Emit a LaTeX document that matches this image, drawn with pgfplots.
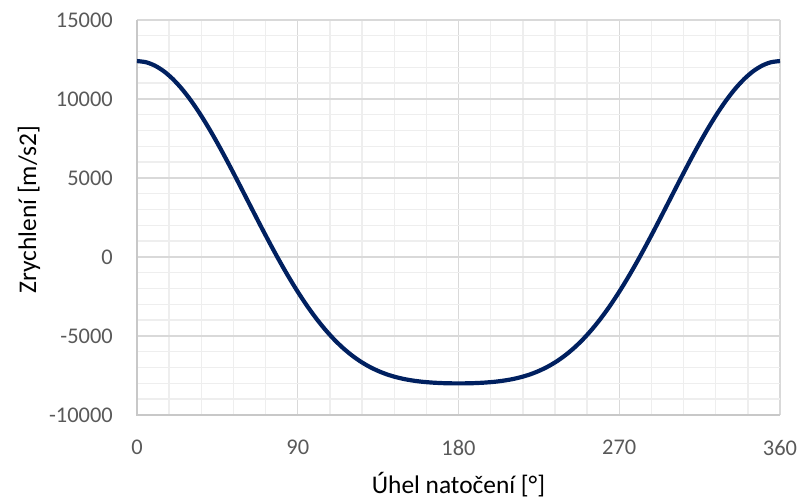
\documentclass[border=0pt]{standalone}
\usepackage{fontspec}
\setmainfont{Carlito}
\usepackage{pgfplots}
\pgfplotsset{compat=1.18}
\definecolor{navy}{RGB}{0,32,96}
\definecolor{majgrid}{RGB}{217,217,217}
\definecolor{mingrid}{RGB}{238,238,238}
\definecolor{ticktext}{RGB}{89,89,89}
\definecolor{axline}{RGB}{200,200,200}
\begin{document}
\begin{tikzpicture}
\path[use as bounding box] (0,0) rectangle (800bp,500bp);
\begin{axis}[
  at={(137bp,85bp)}, anchor=south west,
  scale only axis, width=643bp, height=395bp,
  xmin=0, xmax=360, ymin=-10000, ymax=15000,
  xtick={0,90,180,270,360}, ytick={-10000,-5000,0,5000,10000,15000},
  minor x tick num=4, minor y tick num=4,
  grid=both,
  major grid style={majgrid, line width=1.3bp},
  minor grid style={mingrid, line width=1.4bp},
  axis line style={draw=none},
  major tick length=0pt, minor tick length=0pt,
  /pgf/number format/assume math mode=true,
  /pgf/number format/1000 sep={},
  scaled y ticks=false,
  ticklabel style={font=\fontsize{22.5}{26}\selectfont, text=ticktext, inner sep=0pt},
  yticklabel style={anchor=east, xshift=-24bp},
  xticklabel style={anchor=north, yshift=-25bp},
  xlabel={Úhel natočení [°]},
  ylabel={Zrychlení [m/s2]},
  label style={font=\fontsize{25.5}{30}\selectfont, text=black, inner sep=0pt},
  xlabel style={at={(axis description cs:0.5,-0.2)}, anchor=base},
  ylabel style={at={(axis description cs:-0.157,0.52)}, rotate=0, anchor=base},
  clip=false,
]
\draw[axline, line width=1.5bp] (axis cs:0,15000) -- (axis cs:0,-10000) -- (axis cs:360,-10000);
\addplot[navy, line width=4.2bp, line join=round, smooth] coordinates {
(0,12400) (5,12328) (10,12112) (15,11758) (20,11270) (25,10658) (30,9934) (35,9108)
(40,8196) (45,7212) (50,6174) (55,5098) (60,4000) (65,2897) (70,1803) (75,735)
(80,-296) (85,-1278) (90,-2200) (95,-3056) (100,-3838) (105,-4545) (110,-5174)
(115,-5725) (120,-6200) (125,-6603) (130,-6938) (135,-7212) (140,-7432) (145,-7603)
(150,-7734) (155,-7830) (160,-7900) (165,-7947) (170,-7978) (175,-7995) (180,-8000)
(185,-7995) (190,-7978) (195,-7947) (200,-7900) (205,-7830) (210,-7734) (215,-7603)
(220,-7432) (225,-7212) (230,-6938) (235,-6603) (240,-6200) (245,-5725) (250,-5174)
(255,-4545) (260,-3838) (265,-3056) (270,-2200) (275,-1278) (280,-296) (285,735)
(290,1803) (295,2897) (300,4000) (305,5098) (310,6174) (315,7212) (320,8196)
(325,9108) (330,9934) (335,10658) (340,11270) (345,11758) (350,12112) (355,12328)
(360,12400)
};
\end{axis}
\end{tikzpicture}
\end{document}
